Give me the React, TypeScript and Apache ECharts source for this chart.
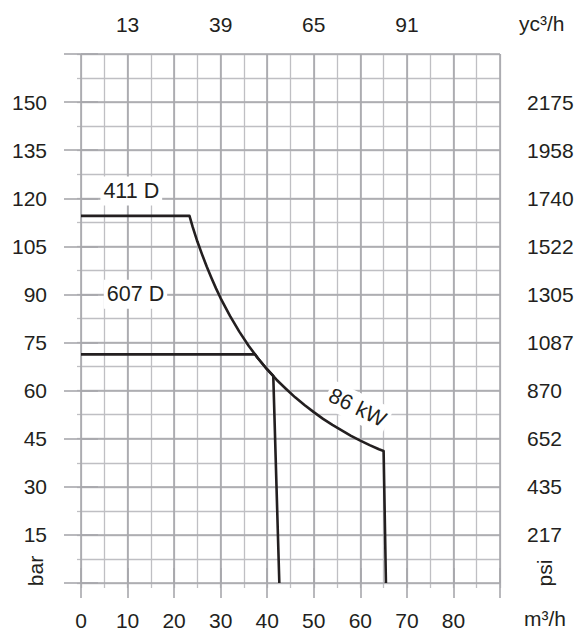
import React, { useEffect, useRef } from "react";
import * as echarts from "echarts";

// Flow (m³/h) – bottom axis ticks
const flowMin = 0;
const flowMax = 90;
const flowLabelMax = 80;
// Top axis (yd³/h) labels at these flow values
const topTickValues = [10, 30, 50, 70];
const topTickLabels = ["13", "39", "65", "91"];
// Pressure (bar) and psi equivalents
const barMin = 0;
const barMax = 165;
const barTickValues = [15, 30, 45, 60, 75, 90, 105, 120, 135, 150];
const psiTickLabels = ["217", "435", "652", "870", "1087", "1305", "1522", "1740", "1958", "2175"];

// Curve 411 D : [flow m³/h, pressure bar]
const curve411Q = [0, 23.3, 24, 25, 26, 27, 28, 29, 30, 32, 34, 36, 38, 40, 42, 44, 46, 48, 50, 52, 54, 56, 58, 60, 62, 64, 65, 65.5];
const curve411P = [114.5, 114.5, 111, 106.5, 102.5, 98.7, 95.2, 91.9, 88.8, 83.3, 78.4, 74, 70.1, 66.6, 63.4, 60.6, 57.9, 55.5, 53.3, 51.2, 49.3, 47.6, 45.9, 44.4, 43, 41.7, 41.2, 0];

// Curve 607 D
const curve607Q = [0, 37.4, 38, 40, 41.3, 42.6];
const curve607P = [71.3, 71.3, 70.1, 66.6, 64.6, 0];

// Annotations
const annotationTexts = ["411 D", "607 D", "86 kW"];
const annotationQ = [10.8, 11.7, 59.4];
const annotationP = [122.3, 90.1, 54.7];
const annotationRotate = [0, 0, -26];

const TEXT = "#231f20";
const MAJOR = "#a8a8ac";
const MINOR = "#bfbfc3";
const FONT = "'Liberation Sans', Arial, Helvetica, sans-serif";

export default function App() {
  const ref = useRef<HTMLDivElement>(null);

  useEffect(() => {
    if (!ref.current) return;
    const chart = echarts.init(ref.current, null, { renderer: "svg" });

    const data411 = curve411Q.map((q, i) => [q, curve411P[i]]);
    const data607 = curve607Q.map((q, i) => [q, curve607P[i]]);
    const annData = annotationTexts.map((t, i) => ({
      name: t,
      value: [annotationQ[i], annotationP[i]],
      label: { rotate: annotationRotate[i] },
    }));

    const option: any = {
      animation: false,
      backgroundColor: "#ffffff",
      textStyle: { fontFamily: FONT },
      grid: { left: 81, right: 87, top: 54, bottom: 48, containLabel: false },
      xAxis: [
        {
          type: "value",
          position: "bottom",
          min: flowMin,
          max: flowMax,
          interval: 5,
          z: 1,
          axisLine: { show: false },
          axisTick: { show: true, length: 5, lineStyle: { color: MINOR, width: 1.3 } },
          axisLabel: { show: false },
          splitLine: { show: true, lineStyle: { color: MINOR, width: 1.3 } },
        },
        {
          type: "value",
          position: "bottom",
          min: flowMin,
          max: flowMax,
          interval: 10,
          z: 2,
          axisLine: { show: false },
          axisTick: { show: true, length: 15, lineStyle: { color: MAJOR, width: 1.6 } },
          axisLabel: {
            show: true,
            margin: 27,
            fontSize: 21,
            color: TEXT,
            fontFamily: FONT,
            formatter: (v: number) => (v <= flowLabelMax ? String(v) : ""),
          },
          splitLine: { show: true, lineStyle: { color: MAJOR, width: 1.6 } },
        },
        {
          type: "value",
          position: "top",
          min: flowMin,
          max: flowMax,
          interval: 10,
          z: 2,
          axisLine: { show: false },
          axisTick: { show: true, length: 15, lineStyle: { color: MAJOR, width: 1.6 } },
          axisLabel: {
            show: true,
            margin: 19,
            fontSize: 21,
            color: TEXT,
            fontFamily: FONT,
            formatter: (v: number) => {
              const i = topTickValues.indexOf(v);
              return i >= 0 ? topTickLabels[i] : "";
            },
          },
          splitLine: { show: false },
        },
      ],
      yAxis: [
        {
          type: "value",
          position: "left",
          min: barMin,
          max: barMax,
          interval: 7.5,
          z: 1,
          axisLine: { show: false },
          axisTick: { show: true, length: 4, lineStyle: { color: MINOR, width: 1.3 } },
          axisLabel: { show: false },
          splitLine: { show: true, lineStyle: { color: MINOR, width: 1.3 } },
        },
        {
          type: "value",
          position: "left",
          min: barMin,
          max: barMax,
          interval: 15,
          z: 2,
          axisLine: { show: false },
          axisTick: { show: true, length: 17, lineStyle: { color: MAJOR, width: 1.6 } },
          axisLabel: {
            show: true,
            margin: 34,
            fontSize: 21,
            color: TEXT,
            fontFamily: FONT,
            padding: [0, 0, 7, 0],
            formatter: (v: number) => (barTickValues.indexOf(v) >= 0 ? String(v) : ""),
          },
          splitLine: { show: true, lineStyle: { color: MAJOR, width: 1.6 } },
        },
        {
          type: "value",
          position: "right",
          min: barMin,
          max: barMax,
          interval: 15,
          z: 2,
          axisLine: { show: false },
          axisTick: { show: true, length: 17, lineStyle: { color: MAJOR, width: 1.6 } },
          axisLabel: {
            show: true,
            margin: 27,
            fontSize: 21,
            color: TEXT,
            fontFamily: FONT,
            padding: [0, 0, 4, 0],
            formatter: (v: number) => {
              const i = barTickValues.indexOf(v);
              return i >= 0 ? psiTickLabels[i] : "";
            },
          },
          splitLine: { show: false },
        },
      ],
      series: [
        {
          name: "411 D",
          type: "line",
          xAxisIndex: 1,
          yAxisIndex: 1,
          data: data411,
          showSymbol: false,
          symbol: "none",
          smooth: false,
          z: 5,
          lineStyle: { color: TEXT, width: 2.6, join: "round" },
        },
        {
          name: "607 D",
          type: "line",
          xAxisIndex: 1,
          yAxisIndex: 1,
          data: data607,
          showSymbol: false,
          symbol: "none",
          smooth: false,
          z: 5,
          lineStyle: { color: TEXT, width: 2.6, join: "round" },
        },
        {
          name: "labels",
          type: "scatter",
          xAxisIndex: 1,
          yAxisIndex: 1,
          symbolSize: 0,
          z: 6,
          itemStyle: { color: "#ffffff", opacity: 0 },
          data: annData,
          label: {
            show: true,
            position: "inside",
            formatter: "{b}",
            fontSize: 21.5,
            color: TEXT,
            opacity: 1,
            fontFamily: FONT,
            textBorderWidth: 0,
            textBorderColor: "transparent",
            backgroundColor: "#ffffff",
            padding: [4, 3, 3, 3],
          },
        },
      ],
      graphic: [
        {
          type: "text",
          x: 519,
          y: 23,
          style: { text: "yc³/h", fontSize: 21, fill: TEXT, font: `21px ${FONT}`, verticalAlign: "middle", align: "left" },
        },
        {
          type: "text",
          x: 524,
          y: 618,
          style: { text: "m³/h", fontSize: 21, fill: TEXT, font: `21px ${FONT}`, verticalAlign: "middle", align: "left" },
        },
        {
          type: "text",
          x: 35,
          y: 571,
          rotation: Math.PI / 2,
          style: { text: "bar", fontSize: 21, fill: TEXT, font: `21px ${FONT}`, verticalAlign: "middle", align: "center" },
        },
        {
          type: "text",
          x: 544,
          y: 573,
          rotation: Math.PI / 2,
          style: { text: "psi", fontSize: 21, fill: TEXT, font: `21px ${FONT}`, verticalAlign: "middle", align: "center" },
        },
      ],
    };

    chart.setOption(option);
    return () => chart.dispose();
  }, []);

  return (
    <div
      ref={ref}
      style={{ position: "fixed", left: 0, top: 0, width: 587, height: 631, background: "#ffffff" }}
    />
  );
}
